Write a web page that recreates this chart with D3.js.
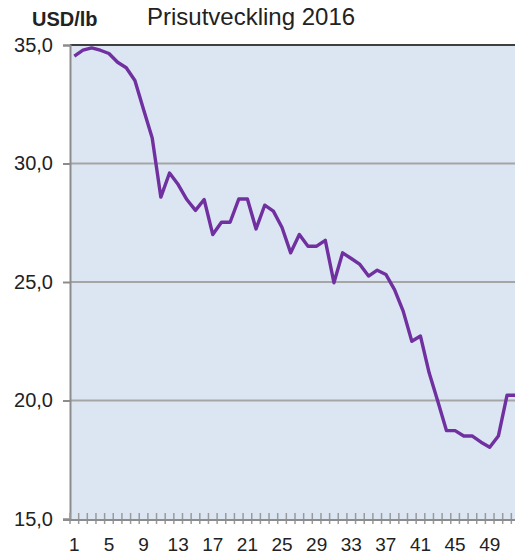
<!DOCTYPE html>
<html>
<head>
<meta charset="utf-8">
<script src="https://cdn.jsdelivr.net/npm/d3@7"></script>
<style>
  body { margin: 0; background: #fff; }
  svg { display: block; font-family: 'Liberation Sans', Arial, sans-serif; }
</style>
</head>
<body>
<div id="chart"></div>
<script>
// weekly price, USD/lb, 2016
const weeks = d3.range(1, 53)
const prices = [
  34.53, 34.78, 34.88, 34.78, 34.64, 34.27, 34.04, 33.5, 32.28, 31.08,
  28.58, 29.6, 29.11, 28.48, 28.02, 28.48, 27.0, 27.52, 27.52, 28.5,
  28.5, 27.24, 28.24, 27.99, 27.3, 26.23, 27.0, 26.51, 26.51, 26.76,
  24.97, 26.23, 25.99, 25.74, 25.25, 25.5, 25.32, 24.68, 23.77, 22.5,
  22.72, 21.17, 19.97, 18.73, 18.73, 18.5, 18.5, 18.24, 18.03, 18.5,
  20.22, 20.22
]
const yTicks = [15, 20, 25, 30, 35]
const xLabels = [1, 5, 9, 13, 17, 21, 25, 29, 33, 37, 41, 45, 49]

const width = 515
const height = 557
const plot = { left: 70, top: 45, right: 520, bottom: 519 }

const svg = d3.select('#chart').append('svg')
  .attr('width', width)
  .attr('height', height)

const x = d3.scaleBand().domain(weeks).range([plot.left, plot.right])
const y = d3.scaleLinear().domain([15, 35]).range([plot.bottom, plot.top])

// plot background
svg.append('rect')
  .attr('x', plot.left)
  .attr('y', plot.top)
  .attr('width', plot.right - plot.left)
  .attr('height', plot.bottom - plot.top)
  .attr('fill', '#dce6f2')

// gridlines
svg.append('g')
  .selectAll('line')
  .data(yTicks.filter(d => d > 15 && d < 35))
  .join('line')
  .attr('x1', plot.left)
  .attr('x2', plot.right)
  .attr('y1', d => y(d))
  .attr('y2', d => y(d))
  .attr('stroke', '#a5a5a5')
  .attr('stroke-width', 2)

// top border
svg.append('line')
  .attr('x1', plot.left)
  .attr('x2', plot.right)
  .attr('y1', y(35))
  .attr('y2', y(35))
  .attr('stroke', '#3f3f3f')
  .attr('stroke-width', 2)

// y axis
const yAxis = d3.axisLeft(y)
  .tickValues(yTicks)
  .tickSize(7)
  .tickPadding(10)
  .tickFormat(d => d3.format('.1f')(d).replace('.', ','))

const gy = svg.append('g')
  .attr('transform', `translate(${plot.left},0)`)
  .call(yAxis)
gy.select('.domain').attr('stroke', '#8c8c8c').attr('stroke-width', 2)
gy.selectAll('.tick line').attr('stroke', '#8c8c8c').attr('stroke-width', 2)
gy.selectAll('.tick text')
  .attr('font-size', 20)
  .attr('fill', '#222')
  .attr('font-family', 'Liberation Sans, Arial, sans-serif')

// x axis: small ticks on every week boundary
const boundaries = weeks.map(w => x(w)).concat([plot.right])
svg.append('g')
  .selectAll('line')
  .data(boundaries)
  .join('line')
  .attr('x1', d => d)
  .attr('x2', d => d)
  .attr('y1', plot.bottom - 6)
  .attr('y2', plot.bottom + 5)
  .attr('stroke', '#9a9a9a')
  .attr('stroke-width', 1.5)

svg.append('line')
  .attr('x1', plot.left - 7)
  .attr('x2', plot.right)
  .attr('y1', plot.bottom + 1)
  .attr('y2', plot.bottom + 1)
  .attr('stroke', '#8c8c8c')
  .attr('stroke-width', 2)

svg.append('g')
  .selectAll('text')
  .data(xLabels)
  .join('text')
  .attr('x', d => x(d) + x.bandwidth() / 2)
  .attr('y', 551)
  .attr('text-anchor', 'middle')
  .attr('font-size', 19)
  .attr('fill', '#222')
  .text(d => d)

// price line
const line = d3.line()
  .x((d, i) => x(weeks[i]) + x.bandwidth() / 2)
  .y(d => y(d))

svg.append('path')
  .datum(prices)
  .attr('d', line)
  .attr('fill', 'none')
  .attr('stroke', '#7030a0')
  .attr('stroke-width', 3.4)
  .attr('stroke-linejoin', 'round')

// labels
svg.append('text')
  .attr('x', 32)
  .attr('y', 26)
  .attr('font-size', 20)
  .attr('font-weight', 'bold')
  .attr('fill', '#222')
  .text('USD/lb')

svg.append('text')
  .attr('x', 147)
  .attr('y', 25)
  .attr('font-size', 24)
  .attr('fill', '#222')
  .text('Prisutveckling 2016')
</script>
</body>
</html>
